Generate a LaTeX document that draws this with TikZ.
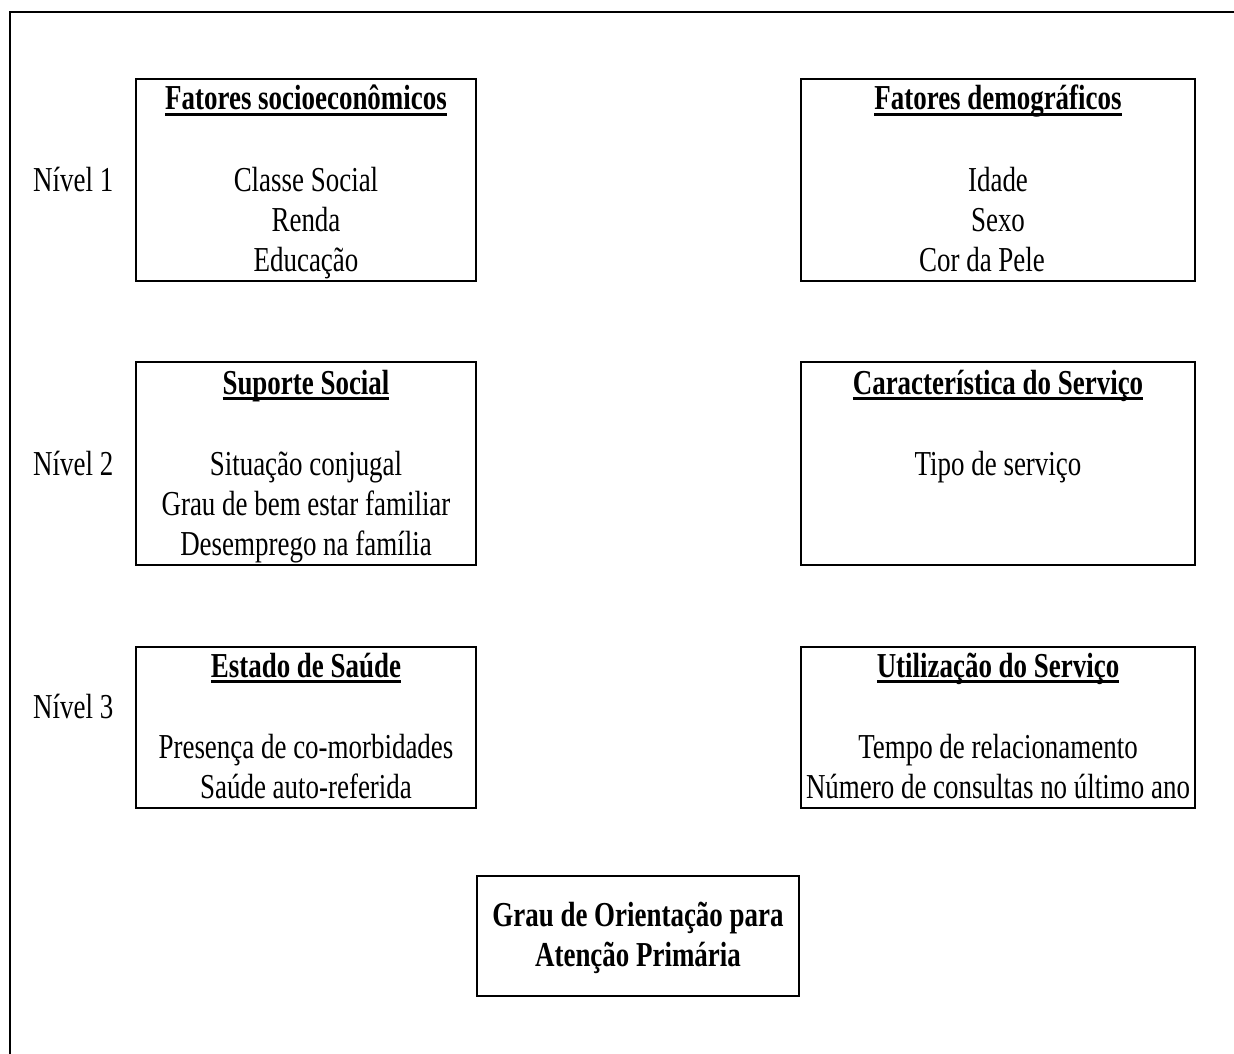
\documentclass[tikz,border=0pt]{standalone}
\usepackage{fontspec}
\setmainfont{Liberation Serif}[FakeStretch=0.77]
\usetikzlibrary{positioning}

% underlined box heading
\newcommand{\headline}[1]{\setbox0\hbox{#1}\rlap{\rule[-6pt]{\wd0}{3pt}}\box0}

\tikzset{
  box/.style={draw, line width=2pt, inner sep=0pt},
  leftbox/.style={box, minimum width=340pt},
  rightbox/.style={box, minimum width=394pt},
  heading/.style={anchor=base, inner sep=0pt, font=\fontsize{35}{40}\selectfont\bfseries},
  items/.style={anchor=base, inner sep=0pt, align=center, font=\fontsize{35}{40}\selectfont},
  level/.style={anchor=base west, inner sep=0pt, font=\fontsize{35}{40}\selectfont}
}

\begin{document}
\begin{tikzpicture}[x=1pt, y=-1pt]
    \useasboundingbox (0,0) rectangle (1234,1054);

    % Outer frame
    \draw[line width=2pt] (10,1054) -- (10,12) -- (1234,12);

    % Level 1 (items placed at baseline of last line)
    \node[leftbox, minimum height=202pt] (socio) at (306,180) {};
    \node[rightbox, minimum height=202pt] (demo) at (998,180) {};
    \node[heading] (socioT) at (306,110) {\headline{Fatores socioeconômicos}};
    \node[items] (socioI) at (306,271) {Classe Social\\Renda\\Educação};
    \node[heading] (demoT) at (998,110) {\headline{Fatores demográficos}};
    \node[items] (demoI) at (998,271) {Idade\\Sexo\\Cor da Pele\hspace*{32pt}};
    \node[level] (lvlA) at (33,191) {Nível 1};

    % Level 2
    \node[leftbox, minimum height=203pt] (suporte) at (306,463.5) {};
    \node[rightbox, minimum height=203pt] (carac) at (998,463.5) {};
    \node[heading] (suporteT) at (306,394) {\headline{Suporte Social}};
    \node[items] (suporteI) at (306,555) {Situação conjugal\\Grau de bem estar familiar\\Desemprego na família};
    \node[heading] (caracT) at (998,394) {\headline{Característica do Serviço}};
    \node[items] (caracI) at (998,475) {Tipo de serviço};
    \node[level] (lvlB) at (33,475) {Nível 2};

    % Level 3
    \node[leftbox, minimum height=161pt] (saude) at (306,727.5) {};
    \node[rightbox, minimum height=161pt] (uso) at (998,727.5) {};
    \node[heading] (saudeT) at (306,677) {\headline{Estado de Saúde}};
    \node[items] (saudeI) at (306,798) {Presença de co-morbidades\\Saúde auto-referida};
    \node[heading] (usoT) at (998,677) {\headline{Utilização do Serviço}};
    \node[items] (usoI) at (998,798) {Tempo de relacionamento\\Número de consultas no último ano};
    \node[level] (lvlC) at (33,718) {Nível 3};

    % Outcome
    \node[box, minimum width=322pt, minimum height=120pt] (grau) at (638,936) {};
    \node[items, font=\fontsize{35}{40}\selectfont\bfseries] (grauT) at (638,966) {Grau de Orientação para\\Atenção Primária};
\end{tikzpicture}
\end{document}
